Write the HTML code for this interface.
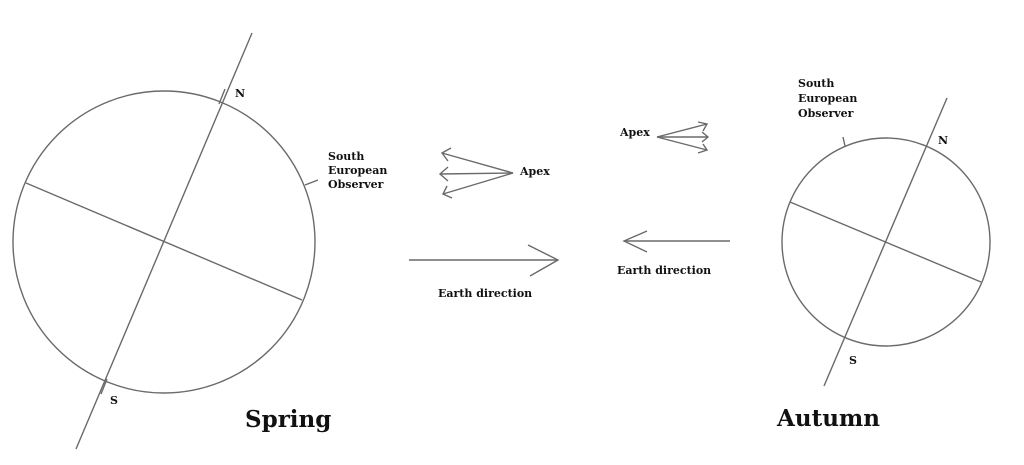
<!DOCTYPE html>
<html><head><meta charset="utf-8"><style>
html,body{margin:0;padding:0;background:#fff;}
svg{display:block;}
text{font-family:"DejaVu Serif","Liberation Serif",serif;font-weight:bold;fill:#111;}
</style></head><body>
<svg width="1024" height="465" viewBox="0 0 1024 465">
<g stroke="#6a6a6a" stroke-width="1.4" fill="none">
<!-- Spring -->
<circle cx="164" cy="242" r="151"/>
<line x1="252" y1="33" x2="76" y2="449"/>
<line x1="26" y1="183" x2="302" y2="300"/>
<line x1="225" y1="89" x2="219" y2="104"/>
<line x1="107" y1="379" x2="101" y2="394"/>
<line x1="305" y1="185" x2="318" y2="180"/>
<!-- Autumn -->
<circle cx="886" cy="242" r="104"/>
<line x1="947" y1="98" x2="824" y2="386"/>
<line x1="790" y1="202" x2="981" y2="282"/>
<line x1="845" y1="146" x2="843" y2="137"/>
<!-- Earth direction arrows -->
<line x1="409" y1="260" x2="558" y2="260"/>
<polyline points="528,245 558,260 530,276"/>
<line x1="730" y1="241" x2="624" y2="241"/>
<polyline points="647,231 624,241 647,252"/>
<!-- Left apex -->
<line x1="513" y1="173" x2="442" y2="153"/>
<line x1="513" y1="173" x2="440" y2="174"/>
<line x1="513" y1="173" x2="443" y2="194"/>
<polyline points="451,148 442,153 448,161"/>
<polyline points="448,167 440,174 448,181"/>
<polyline points="447,186 443,194 452,198"/>
<!-- Right apex -->
<line x1="657" y1="137" x2="707" y2="124"/>
<line x1="657" y1="137" x2="708" y2="137"/>
<line x1="657" y1="137" x2="707" y2="150"/>
<polyline points="698,122 707,124 703,131"/>
<polyline points="702,132 708,137 702,142"/>
<polyline points="703,144 707,150 698,153"/>
</g>
<g font-size="11">
<text x="235" y="97">N</text>
<text x="110" y="404">S</text>
<text x="328" y="160">South</text>
<text x="328" y="174">European</text>
<text x="328" y="188">Observer</text>
<text x="938" y="144">N</text>
<text x="849" y="364">S</text>
<text x="798" y="87">South</text>
<text x="798" y="102">European</text>
<text x="798" y="117">Observer</text>
<text x="520" y="175">Apex</text>
<text x="620" y="136">Apex</text>
<text x="438" y="297">Earth direction</text>
<text x="617" y="274">Earth direction</text>
</g>
<text x="245" y="427" font-size="23">Spring</text>
<text x="777" y="426" font-size="23">Autumn</text>
</svg>
</body></html>
